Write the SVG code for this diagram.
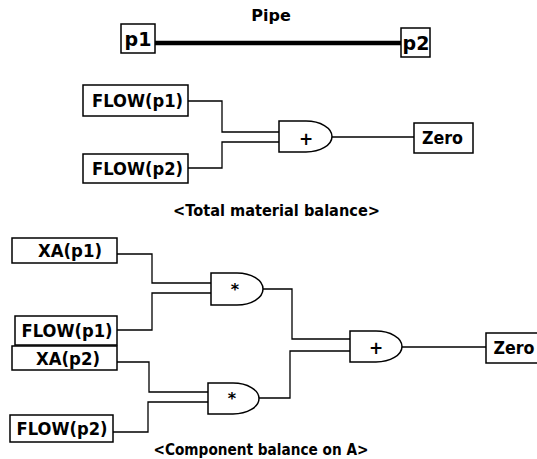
<svg xmlns="http://www.w3.org/2000/svg" width="537" height="459" viewBox="0 0 537 459">
<style>
.box{fill:#fff;stroke:#000;stroke-width:1.5}
.gate{fill:#fff;stroke:#000;stroke-width:1.5}
.w{fill:none;stroke:#000;stroke-width:1.3}
text{font-family:"DejaVu Sans",Verdana,sans-serif;font-weight:bold;fill:#000;text-anchor:middle}
.t{font-size:17px}
.cap{font-size:15px}
</style>
<rect width="537" height="459" fill="#fff"/>
<text x="271" y="21" style="font-size:16px">Pipe</text>
<g id="connectors">
<line x1="155" y1="43" x2="401" y2="43" stroke="#000" stroke-width="4.5"/>
<polyline class="w" points="188,101 222,101 222,132 279,132"/>
<polyline class="w" points="188,168 222,168 222,142 279,142"/>
<line class="w" x1="332" y1="137" x2="414" y2="137"/>
<polyline class="w" points="117,254 152,254 152,283 211,283"/>
<polyline class="w" points="117,330 152,330 152,293 211,293"/>
<polyline class="w" points="117,362 149,362 149,392 208,392"/>
<polyline class="w" points="113,432 148,432 148,402 208,402"/>
<polyline class="w" points="263,289 292,289 292,339 350,339"/>
<polyline class="w" points="259,398 290,398 290,351 350,351"/>
<line class="w" x1="402" y1="347" x2="486" y2="347"/>
</g>
<g id="p1"><rect class="box" x="121" y="24" width="34" height="29"/><text x="138" y="46" style="font-size:19px">p1</text></g>
<g id="p2"><rect class="box" x="401" y="28" width="29" height="29"/><text x="416" y="50" style="font-size:19px">p2</text></g>
<g id="flow-p1-a"><rect class="box" x="83" y="85" width="105" height="31"/><text class="t" x="137.5" y="107" textLength="91" lengthAdjust="spacingAndGlyphs">FLOW(p1)</text></g>
<g id="flow-p2-a"><rect class="box" x="83" y="154" width="105" height="29"/><text class="t" x="137.5" y="175" textLength="91" lengthAdjust="spacingAndGlyphs">FLOW(p2)</text></g>
<g id="sum-a"><path class="gate" d="M279,121 H306 A26,15.5 0 0 1 306,152 H279 Z"/><text x="306" y="145" style="font-size:17px">+</text></g>
<g id="zero-a"><rect class="box" x="414" y="123" width="59" height="30"/><text class="t" x="442.5" y="144" textLength="41" lengthAdjust="spacingAndGlyphs">Zero</text></g>
<text class="cap" x="276.5" y="216" textLength="207" lengthAdjust="spacingAndGlyphs">&lt;Total material balance&gt;</text>
<g id="xa-p1"><rect class="box" x="12" y="238" width="105" height="25"/><text class="t" x="70" y="257" textLength="64" lengthAdjust="spacingAndGlyphs">XA(p1)</text></g>
<g id="flow-p1-b"><rect class="box" x="15" y="316" width="102" height="29"/><text class="t" x="67" y="337" textLength="91" lengthAdjust="spacingAndGlyphs">FLOW(p1)</text></g>
<g id="mul-1"><path class="gate" d="M211,273 H237 A26,16 0 0 1 237,305 H211 Z"/><text x="235" y="295" style="font-size:16px">*</text></g>
<g id="xa-p2"><rect class="box" x="12" y="346" width="105" height="24"/><text class="t" x="68" y="365" textLength="64" lengthAdjust="spacingAndGlyphs">XA(p2)</text></g>
<g id="flow-p2-b"><rect class="box" x="10" y="415" width="103" height="27"/><text class="t" x="62" y="435" textLength="91" lengthAdjust="spacingAndGlyphs">FLOW(p2)</text></g>
<g id="mul-2"><path class="gate" d="M208,383 H233 A26,15.5 0 0 1 233,414 H208 Z"/><text x="232" y="404" style="font-size:16px">*</text></g>
<g id="sum-b"><path class="gate" d="M350,331 H376 A26,15.5 0 0 1 376,362 H350 Z"/><text x="376" y="354" style="font-size:17px">+</text></g>
<g id="zero-b"><rect class="box" x="486" y="333" width="60" height="30"/><text class="t" x="514" y="354" textLength="41" lengthAdjust="spacingAndGlyphs">Zero</text></g>
<text class="cap" x="261" y="455" textLength="215" lengthAdjust="spacingAndGlyphs">&lt;Component balance on A&gt;</text>
</svg>
